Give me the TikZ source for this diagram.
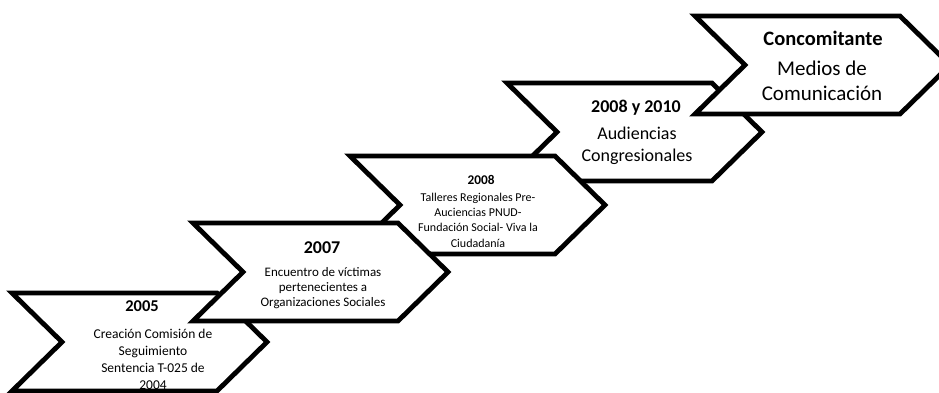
\documentclass[tikz,border=0pt]{standalone}
\usepackage{fontspec}
\setmainfont{Carlito}
\newcommand{\chevshape}[2]{%
  \draw[chev] (#1,#2) -- ++(205,0) -- ++(50,49) -- ++(-50,49) -- ++(-205,0) -- ++(50,-49) -- cycle;}
\begin{document}
\begin{tikzpicture}[x=1pt,y=-1pt,
  chev/.style={draw=black, fill=white, line width=4.8pt, line join=miter},
  ttl/.style={inner sep=0pt, align=center},
  body/.style={inner sep=0pt, align=center}]
\useasboundingbox (0,0) rectangle (939,392);
% chevron 4
\chevshape{507}{83}
\node[ttl, font=\bfseries\fontsize{18}{21}\selectfont] (t4) at (636,108) {2008 y 2010};
\node[body, font=\fontsize{18}{22}\selectfont] (b4) at (637,146) {Audiencias\\Congresionales};
% chevron 5
\chevshape{695}{16}
\node[ttl, font=\bfseries\fontsize{20.5}{24}\selectfont] (t5) at (823,38) {Concomitante};
\node[body, font=\fontsize{21}{24.5}\selectfont] (b5) at (822,81) {Medios de\\Comunicación};
% chevron 3
\chevshape{350}{156}
\node[ttl, font=\bfseries\fontsize{13.3}{16}\selectfont] (t3) at (481,180) {2008};
\node[body, font=\fontsize{12}{15.3}\selectfont] (b3) at (478,220) {Talleres Regionales Pre-\\Auciencias PNUD-\\Fundación Social- Viva la\\Ciudadanía};
% chevron 1
\chevshape{12}{293}
\node[ttl, font=\bfseries\fontsize{16.5}{19}\selectfont] (t1) at (142,306) {2005};
\node[body, font=\fontsize{13.5}{17}\selectfont] (b1) at (153,359) {Creación Comisión de\\Seguimiento\\Sentencia T-025 de\\2004};
% chevron 2
\chevshape{193}{223}
\node[ttl, font=\bfseries\fontsize{18}{21}\selectfont] (t2) at (322,248) {2007};
\node[body, font=\fontsize{13}{15}\selectfont] (b2) at (323,288) {Encuentro de víctimas\\pertenecientes a\\Organizaciones Sociales};
\end{tikzpicture}
\end{document}
